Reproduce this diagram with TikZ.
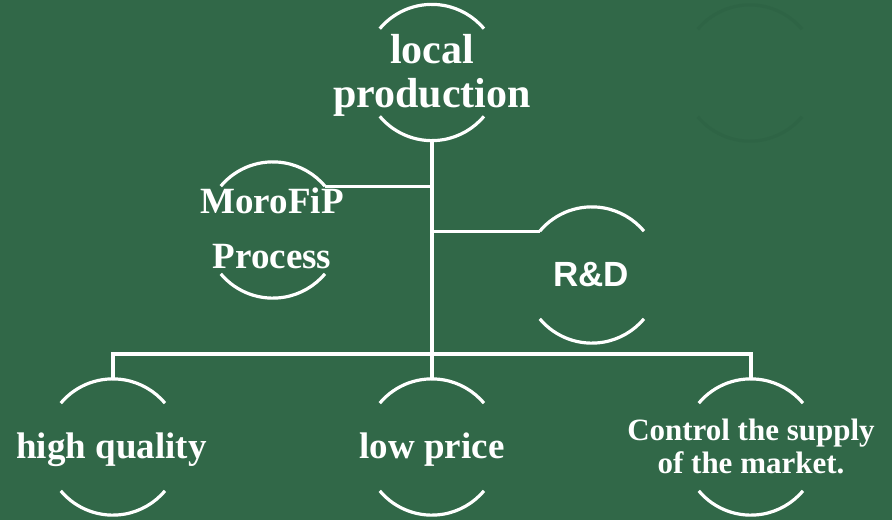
\documentclass[tikz,border=0pt]{standalone}
\usepackage{fontspec}
\setmainfont{Liberation Serif}
\newfontfamily\rdfont{Liberation Sans}
\definecolor{board}{RGB}{49,104,72}
\definecolor{ghost}{RGB}{46,100,69}
\begin{document}
\begin{tikzpicture}[x=1pt,y=-1pt,
  hub/.style={circle,minimum size=136pt,inner sep=0pt},
  arcs/.style={draw=white,line width=3.2pt},
  link/.style={draw=white,line width=3.2pt},
  lbl/.style={text=white,inner sep=0pt,align=center,font=\bfseries}]
\fill[board] (0,0) rectangle (892,520);
\useasboundingbox (0,0) rectangle (892,520);
% hubs
\node[hub] (lp) at (432,72.5) {};
\node[hub] (mo) at (273,230) {};
\node[hub] (rd) at (592,275) {};
\node[hub] (hq) at (113,447) {};
\node[hub] (pr) at (432,447) {};
\node[hub] (cs) at (751,447) {};
\node[hub] (gh) at (750,73) {};
% arcs
\foreach \n in {lp,mo,rd,hq,pr,cs}{
  \draw[arcs] (\n.140) arc[start angle=140,end angle=40,radius=68pt];
  \draw[arcs] (\n.220) arc[start angle=220,end angle=320,radius=68pt];
}
\draw[draw=ghost,line width=3.2pt] (gh.140) arc[start angle=140,end angle=40,radius=68pt];
\draw[draw=ghost,line width=3.2pt] (gh.220) arc[start angle=220,end angle=320,radius=68pt];
% labels
\node[lbl,font=\bfseries\fontsize{42}{44}\selectfont] (tlp) at (432,75) {local\\production};
\node[lbl,font=\bfseries\fontsize{37}{55}\selectfont] (tmo) at (272,228.5) {MoroFiP\\Process};
\node[lbl,font=\rdfont\bfseries\fontsize{35}{40}\selectfont] (trd) at (591,274.5) {R\&D};
\node[lbl,font=\bfseries\fontsize{37}{44}\selectfont] (thq) at (111.5,449.5) {high quality};
\node[lbl,font=\bfseries\fontsize{37}{44}\selectfont] (tpr) at (432,449.5) {low price};
\node[lbl,font=\bfseries\fontsize{31}{33}\selectfont] (tcs) at (751,446) {Control the supply\\of the market.};
% connectors
\coordinate (bar) at (432,354);
\draw[link] (lp.south) -- (pr.north);
\draw[link] (mo.40) -- (mo.40 -| lp.south);
\draw[link] (rd.140) -- (rd.140 -| lp.south);
\draw[link,line join=miter] (hq.north) -- (hq.north |- bar) -- (cs.north |- bar) -- (cs.north);
\end{tikzpicture}
\end{document}
